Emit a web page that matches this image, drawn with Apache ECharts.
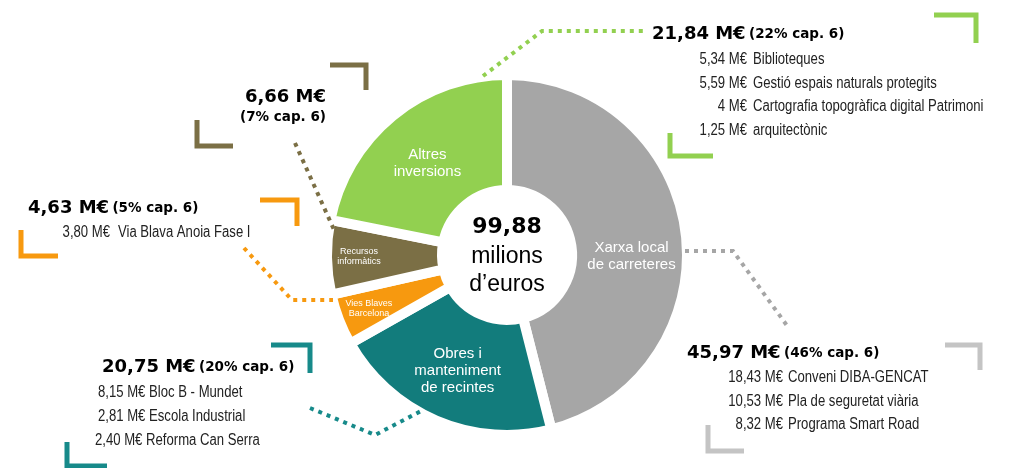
<!DOCTYPE html>
<html>
<head>
<meta charset="utf-8">
<title>Capítol 6 - inversions</title>
<script src="https://cdn.jsdelivr.net/npm/echarts@6/dist/echarts.min.js"></script>
<style>
  html, body { margin: 0; padding: 0; background: #fff; }
  #chart { width: 1009px; height: 468px; }
</style>
</head>
<body>
<div id="chart"></div>
<script>
  // dades (M€), en ordre horari des de dalt
  var categories = ['Xarxa local de carreteres', 'Obres i manteniment de recintes', 'Vies Blaves Barcelona', 'Recursos informàtics', 'Altres inversions'];
  var values = [45.97, 20.75, 4.63, 6.66, 21.84];
  var sliceLabels = ['Xarxa local\nde carreteres', 'Obres i\nmanteniment\nde recintes', 'Vies Blaves\nBarcelona', 'Recursos\ninformàtics', 'Altres\ninversions'];
  var colors = ['#a6a6a6', '#127c7c', '#f7990f', '#7b6f45', '#92d050'];
  var shares = ['46%', '20%', '5%', '7%', '22%'];
  var totalText = '99,88';

  // detall de cada bloc
  var detailXarxa = [['18,43 M€', 'Conveni DIBA-GENCAT'], ['10,53 M€', 'Pla de seguretat viària'], ['8,32 M€', 'Programa Smart Road']];
  var detailObres = [['8,15 M€', 'Bloc B - Mundet'], ['2,81 M€', 'Escola Industrial'], ['2,40 M€', 'Reforma Can Serra']];
  var detailVies = [['3,80 M€', 'Via Blava Anoia Fase I']];
  var detailAltres = [['5,34 M€', 'Biblioteques'], ['5,59 M€', 'Gestió espais naturals protegits'], ['4 M€', 'Cartografia topogràfica digital Patrimoni'], ['1,25 M€', 'arquitectònic']];

  var chart = echarts.init(document.getElementById('chart'));

  var fontHead = '"DejaVu Sans", sans-serif';
  var fontNarrow = '16px "Liberation Sans", Arial, sans-serif';
  var narrow = 0.82; // no hi ha Arial Narrow: s'estreny la lletra
  var smallIdx = [2, 3];

  function fmt(v) {
    return v.toFixed(2).replace('.', ',') + ' M€';
  }

  function headText(i, x, y) {
    return {
      type: 'text', x: x, y: y,
      style: {
        text: '{a|' + fmt(values[i]) + '} {b|(' + shares[i] + ' cap. 6)}',
        textAlign: 'left', verticalAlign: 'middle',
        rich: {
          a: {fontFamily: fontHead, fontWeight: 'bold', fontSize: 18, fill: '#000'},
          b: {fontFamily: fontHead, fontWeight: 'bold', fontSize: 13.5, fill: '#000'}
        }
      }
    };
  }

  function narrowText(txt, x, y, align) {
    return {type: 'text', x: x, y: y, scaleX: narrow, style: {text: txt, font: fontNarrow, fill: '#222', textAlign: align, verticalAlign: 'middle'}};
  }

  function details(rows, xSplit, y0, gap) {
    var out = [];
    rows.forEach(function (r, k) {
      out.push(narrowText(r[0], xSplit, y0 + k * 23.5, 'right'));
      out.push(narrowText(r[1], xSplit + gap, y0 + k * 23.5, 'left'));
    });
    return out;
  }

  function bracket(pts, color) {
    return {type: 'polyline', shape: {points: pts}, style: {stroke: color, lineWidth: 5, fill: null, lineJoin: 'miter', lineCap: 'butt'}, silent: true};
  }

  function dots(pts, color) {
    return {type: 'polyline', shape: {points: pts}, style: {stroke: color, lineWidth: 4, lineDash: [4, 5], fill: null, lineCap: 'butt'}, silent: true, z: 10};
  }

  var graphics = [];
  // text central
  graphics.push({type: 'text', x: 507, y: 227, style: {text: totalText, font: 'bold 22px ' + fontHead, fill: '#000', textAlign: 'center', verticalAlign: 'middle'}});
  graphics.push({type: 'text', x: 507, y: 257, style: {text: 'milions', font: '23px "Liberation Sans", Arial, sans-serif', fill: '#000', textAlign: 'center', verticalAlign: 'middle'}});
  graphics.push({type: 'text', x: 507, y: 285, style: {text: 'd’euros', font: '23px "Liberation Sans", Arial, sans-serif', fill: '#000', textAlign: 'center', verticalAlign: 'middle'}});

  // Altres inversions
  graphics.push(headText(4, 652, 34));
  graphics = graphics.concat(details(detailAltres, 747, 60, 6));
  graphics.push(bracket([[934, 15], [976, 15], [976, 43]], colors[4]));
  graphics.push(bracket([[670, 133], [670, 156], [713, 156]], colors[4]));
  graphics.push(dots([[483, 76], [542, 31], [645, 31]], colors[4]));

  // Xarxa local
  graphics.push(headText(0, 687, 353));
  graphics = graphics.concat(details(detailXarxa, 783, 378, 5));
  graphics.push(bracket([[945, 345], [980, 345], [980, 370]], '#c4c4c4'));
  graphics.push(bracket([[708, 425], [708, 451], [744, 451]], '#c4c4c4'));
  graphics.push(dots([[685, 251], [733, 251], [788, 327]], colors[0]));

  // Obres
  graphics.push(headText(1, 102, 367));
  detailObres.forEach(function (r, k) {
    graphics.push(narrowText(r[0] + ' ' + r[1], [98, 98, 95][k], 393 + k * 24, 'left'));
  });
  graphics.push(bracket([[271, 345], [310, 345], [310, 373]], '#178a8a'));
  graphics.push(bracket([[67, 442], [67, 466], [107, 466]], '#178a8a'));
  graphics.push(dots([[310, 408], [375, 435], [423, 410]], '#178a8a'));

  // Vies Blaves
  graphics.push(headText(2, 28, 208));
  graphics = graphics.concat(details(detailVies, 110, 233, 8));
  graphics.push(bracket([[260, 200], [297, 200], [297, 226]], colors[2]));
  graphics.push(bracket([[21, 230], [21, 256], [58, 256]], colors[2]));
  graphics.push(dots([[244, 248], [292, 300], [333, 300]], colors[2]));

  // Recursos informatics
  graphics.push({type: 'text', x: 326, y: 97, style: {text: fmt(values[3]), font: 'bold 18px ' + fontHead, fill: '#000', textAlign: 'right', verticalAlign: 'middle'}});
  graphics.push({type: 'text', x: 326, y: 117, style: {text: '(' + shares[3] + ' cap. 6)', font: 'bold 13.5px ' + fontHead, fill: '#000', textAlign: 'right', verticalAlign: 'middle'}});
  graphics.push(bracket([[330, 65], [366, 65], [366, 90]], colors[3]));
  graphics.push(bracket([[197, 120], [197, 146], [233, 146]], colors[3]));
  graphics.push(dots([[295, 143], [335, 232]], colors[3]));

  // espai buit a dalt per baixar algunes etiquetes
  var labelShift = [34, 0, 0, 0, 11];

  var option = {
    animation: false,
    series: [
      {
        type: 'pie',
        center: [507, 255],
        radius: [65, 180],
        startAngle: 90,
        clockwise: true,
        silent: true,
        avoidLabelOverlap: false,
        itemStyle: {borderColor: '#fff', borderWidth: 10, borderJoin: 'miter'},
        label: {
          position: 'inside', color: '#fff', fontSize: 15, lineHeight: 17,
          fontFamily: '"Liberation Sans", Arial, sans-serif',
          formatter: function (p) {
            var lines = sliceLabels[p.dataIndex].split('\n').map(function (s) { return '{t|' + s + '}'; });
            if (labelShift[p.dataIndex]) lines.unshift('{p' + p.dataIndex + '| }');
            return lines.join('\n');
          },
          rich: {
            t: {color: '#fff', fontSize: 15, lineHeight: 17, fontFamily: '"Liberation Sans", Arial, sans-serif'},
            p0: {fontSize: 1, lineHeight: 34, height: 34},
            p4: {fontSize: 1, lineHeight: 11, height: 11}
          }
        },
        labelLine: {show: false},
        data: categories.map(function (n, i) {
          return {name: n, value: values[i], itemStyle: {color: colors[i]}, label: {show: smallIdx.indexOf(i) < 0}};
        })
      },
      {
        // només per col·locar les etiquetes petites més a fora
        type: 'pie',
        center: [507, 255],
        radius: [115, 175],
        startAngle: 90,
        clockwise: true,
        silent: true,
        avoidLabelOverlap: false,
        itemStyle: {color: 'rgba(0,0,0,0)'},
        label: {
          position: 'inside', color: '#fff', fontSize: 9, lineHeight: 10,
          fontFamily: '"Liberation Sans", Arial, sans-serif',
          formatter: function (p) { return sliceLabels[p.dataIndex]; }
        },
        labelLine: {show: false},
        data: categories.map(function (n, i) {
          return {name: n, value: values[i], label: {show: smallIdx.indexOf(i) >= 0}};
        })
      }
    ],
    graphic: graphics
  };

  chart.setOption(option);
  window.addEventListener('resize', function () {
    chart.resize();
  });
</script>
</body>
</html>
